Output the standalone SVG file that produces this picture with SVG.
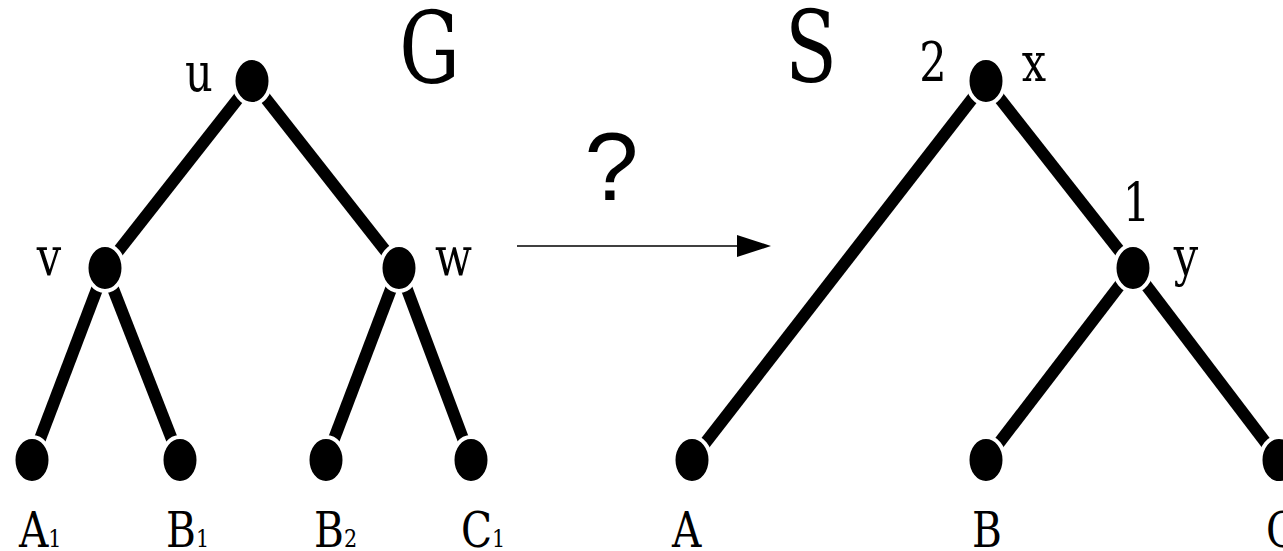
<svg xmlns="http://www.w3.org/2000/svg" width="1283" height="551" viewBox="0 0 1283 551">
  <style>
    .edge { stroke: #000; stroke-width: 12; stroke-linecap: butt; fill: none; }
    .node { fill: #000; stroke: #fff; stroke-width: 4; }
    .lbl { font-family: "DejaVu Serif", "Liberation Serif", serif; fill: #000; }
    .big { font-size: 100px; text-anchor: middle; }
    .mid { font-size: 54px; text-anchor: middle; }
    .leaf { font-size: 49px; }
    .sub { font-size: 25px; }
    .q { font-family: "Liberation Sans", Arial, sans-serif; font-size: 97px; text-anchor: middle; fill: #000; }
  </style>
  <defs>
    <marker id="arrow" markerWidth="34" markerHeight="22" refX="0" refY="11" orient="auto" markerUnits="userSpaceOnUse">
      <polygon points="0,0 34,11 0,22" fill="#000"/>
    </marker>
  </defs>

  <g id="connectors">
    <line class="edge" x1="252" y1="81" x2="105" y2="268"/>
    <line class="edge" x1="252" y1="81" x2="399" y2="268"/>
    <line class="edge" x1="105" y1="268" x2="32" y2="460"/>
    <line class="edge" x1="105" y1="268" x2="180" y2="460"/>
    <line class="edge" x1="399" y1="268" x2="326" y2="460"/>
    <line class="edge" x1="399" y1="268" x2="471" y2="460"/>
    <line class="edge" x1="986" y1="81" x2="692" y2="460"/>
    <line class="edge" x1="986" y1="81" x2="1133" y2="268"/>
    <line class="edge" x1="1133" y1="268" x2="986" y2="460"/>
    <line class="edge" x1="1133" y1="268" x2="1279" y2="460"/>
    <line x1="517" y1="246" x2="737" y2="246" stroke="#000" stroke-width="1.5" marker-end="url(#arrow)"/>
  </g>

  <g id="node-u"><ellipse class="node" cx="252" cy="81" rx="18.5" ry="23"/>
    <text class="lbl mid" transform="translate(199,91) scale(0.8,1)">u</text></g>
  <g id="node-v"><ellipse class="node" cx="105" cy="268" rx="18.5" ry="23"/>
    <text class="lbl mid" transform="translate(49,275) scale(0.8,1)">v</text></g>
  <g id="node-w"><ellipse class="node" cx="399" cy="268" rx="18.5" ry="23"/>
    <text class="lbl mid" transform="translate(453.5,275) scale(0.8,1)">w</text></g>
  <g id="node-A1"><ellipse class="node" cx="32" cy="460" rx="18.5" ry="23"/>
    <text class="lbl leaf" transform="translate(19,547) scale(0.83,1)">A<tspan class="sub">1</tspan></text></g>
  <g id="node-B1"><ellipse class="node" cx="180" cy="460" rx="18.5" ry="23"/>
    <text class="lbl leaf" transform="translate(166,547) scale(0.83,1)">B<tspan class="sub">1</tspan></text></g>
  <g id="node-B2"><ellipse class="node" cx="326" cy="460" rx="18.5" ry="23"/>
    <text class="lbl leaf" transform="translate(314,547) scale(0.83,1)">B<tspan class="sub">2</tspan></text></g>
  <g id="node-C1"><ellipse class="node" cx="471" cy="460" rx="18.5" ry="23"/>
    <text class="lbl leaf" transform="translate(461,547) scale(0.83,1)">C<tspan class="sub">1</tspan></text></g>

  <g id="node-x"><ellipse class="node" cx="986" cy="81" rx="18.5" ry="23"/>
    <text class="lbl mid" transform="translate(933,81) scale(0.8,1)">2</text>
    <text class="lbl mid" transform="translate(1034,81) scale(0.8,1)">x</text></g>
  <g id="node-y"><ellipse class="node" cx="1133" cy="268" rx="18.5" ry="23"/>
    <text class="lbl mid" transform="translate(1136.5,222) scale(0.8,1)">1</text>
    <text class="lbl mid" transform="translate(1186,275) scale(0.8,1)">y</text></g>
  <g id="node-A"><ellipse class="node" cx="692" cy="460" rx="18.5" ry="23"/>
    <text class="lbl leaf" transform="translate(672,547) scale(0.83,1)">A</text></g>
  <g id="node-B"><ellipse class="node" cx="986" cy="460" rx="18.5" ry="23"/>
    <text class="lbl leaf" transform="translate(972,547) scale(0.83,1)">B</text></g>
  <g id="node-C"><ellipse class="node" cx="1279" cy="460" rx="18.5" ry="23"/>
    <text class="lbl leaf" transform="translate(1266,547) scale(0.83,1)">C</text></g>

  <g id="titles">
    <text class="lbl big" transform="translate(429.5,83) scale(0.76,1)">G</text>
    <text class="lbl big" transform="translate(811,82) scale(0.76,1)">S</text>
    <text class="q" x="611.5" y="200">?</text>
  </g>
</svg>
